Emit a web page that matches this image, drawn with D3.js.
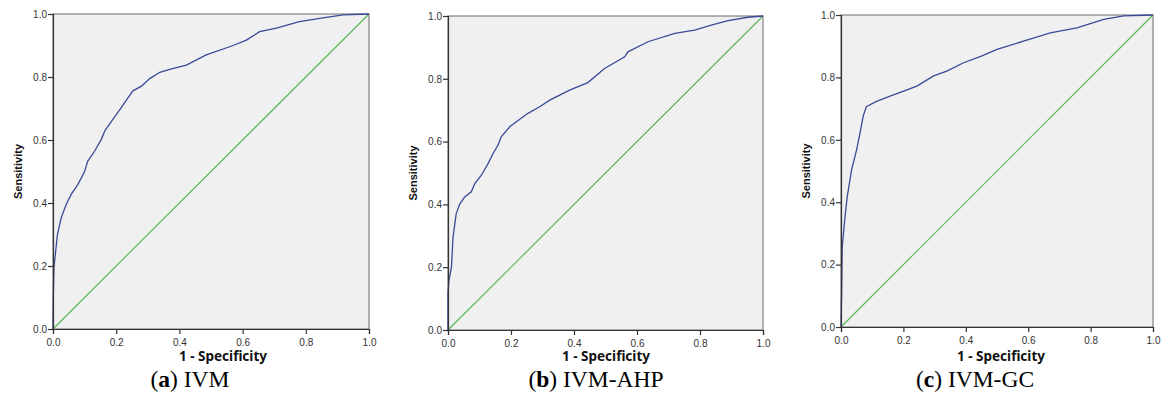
<!DOCTYPE html>
<html>
<head>
<meta charset="utf-8">
<script src="https://cdn.jsdelivr.net/npm/d3@7"></script>
<style>
  body { margin: 0; background: #fff; }
  svg { display: block; }
</style>
</head>
<body>
<div id="chart"></div>
<script>
// ROC curves (1 - specificity, sensitivity)
const fprA = [0, 0.001, 0.003, 0.014, 0.026, 0.042, 0.058, 0.079, 0.10, 0.11, 0.132, 0.153, 0.164, 0.19, 0.216, 0.237, 0.253, 0.28, 0.306, 0.338, 0.375, 0.422, 0.485, 0.57, 0.612, 0.654, 0.707, 0.78, 0.844, 0.918, 1]
const tprA = [0, 0.099, 0.195, 0.30, 0.353, 0.396, 0.428, 0.459, 0.50, 0.533, 0.565, 0.602, 0.629, 0.666, 0.703, 0.734, 0.756, 0.771, 0.795, 0.815, 0.826, 0.838, 0.870, 0.90, 0.917, 0.944, 0.955, 0.976, 0.986, 0.997, 1]

const fprB = [0, 0, 0.003, 0.011, 0.016, 0.026, 0.037, 0.053, 0.074, 0.085, 0.106, 0.127, 0.143, 0.159, 0.169, 0.196, 0.217, 0.254, 0.291, 0.323, 0.386, 0.444, 0.497, 0.561, 0.571, 0.635, 0.72, 0.783, 0.836, 0.889, 0.952, 1]
const tprB = [0, 0.115, 0.158, 0.20, 0.296, 0.37, 0.40, 0.424, 0.44, 0.466, 0.493, 0.53, 0.562, 0.589, 0.615, 0.647, 0.663, 0.69, 0.711, 0.732, 0.764, 0.788, 0.833, 0.87, 0.886, 0.918, 0.945, 0.955, 0.971, 0.985, 0.996, 1]

const fprC = [0, 0.002, 0.004, 0.013, 0.02, 0.034, 0.05, 0.061, 0.071, 0.081, 0.114, 0.157, 0.19, 0.243, 0.297, 0.339, 0.393, 0.45, 0.5, 0.585, 0.671, 0.756, 0.842, 0.906, 1]
const tprC = [0, 0.107, 0.257, 0.354, 0.418, 0.504, 0.568, 0.622, 0.675, 0.706, 0.723, 0.74, 0.752, 0.772, 0.805, 0.82, 0.847, 0.868, 0.89, 0.916, 0.943, 0.959, 0.986, 0.997, 1]

const ticks = [0, 0.2, 0.4, 0.6, 0.8, 1.0]
const captions = [["a", " IVM"], ["b", " IVM-AHP"], ["c", " IVM-GC"]]
const xTitles = ["1 -  Specificity", "1 - Specificity", "1 - Specificity"]
const yTitle = "Sensitivity"

const W = 1161, H = 417
const svg = d3.select("#chart").append("svg")
  .attr("width", W)
  .attr("height", H)

// panel frames in pixels
const panels = [
  { x0: 53, x1: 369, y0: 14, y1: 329, fpr: fprA, tpr: tprA, tx: 223, yx: 18, cap: 190 },
  { x0: 448, x1: 763, y0: 16, y1: 330, fpr: fprB, tpr: tprB, tx: 606, yx: 413, cap: 596 },
  { x0: 841, x1: 1153, y0: 15, y1: 327, fpr: fprC, tpr: tprC, tx: 1001, yx: 806, cap: 975 }
]

panels.forEach((p, k) => {
  const x = d3.scaleLinear().domain([0, 1]).range([p.x0, p.x1])
  const y = d3.scaleLinear().domain([0, 1]).range([p.y1, p.y0])
  const g = svg.append("g")

  g.append("rect")
    .attr("x", p.x0).attr("y", p.y0)
    .attr("width", p.x1 - p.x0).attr("height", p.y1 - p.y0)
    .attr("fill", "#f0f0f0")
    .attr("stroke", "#6a6a6a")
    .attr("stroke-width", 1)

  // reference diagonal
  g.append("path")
    .datum([0, 1])
    .attr("d", d3.line().x(d => x(d)).y(d => y(d)))
    .attr("fill", "none")
    .attr("stroke", "#52b552")
    .attr("stroke-width", 1.1)

  const pts = p.fpr.map((v, i) => [v, p.tpr[i]])
  g.append("path")
    .datum(pts)
    .attr("d", d3.line().x(d => x(d[0])).y(d => y(d[1])))
    .attr("fill", "none")
    .attr("stroke", "#3a4a98")
    .attr("stroke-width", 1.3)

  const xAxis = g.append("g")
    .attr("transform", `translate(0,${p.y1})`)
    .call(d3.axisBottom(x).tickValues(ticks).tickFormat(d3.format(".1f")).tickSizeOuter(0).tickSize(5))
  const yAxis = g.append("g")
    .attr("transform", `translate(${p.x0},0)`)
    .call(d3.axisLeft(y).tickValues(ticks).tickFormat(d3.format(".1f")).tickSizeOuter(0).tickSize(5))
  ;[xAxis, yAxis].forEach(a => {
    a.select(".domain").attr("stroke", "#333").attr("stroke-width", 1.2)
    a.selectAll(".tick line").attr("stroke", "#333").attr("stroke-width", 1.2)
    a.selectAll("text")
      .attr("fill", "#333")
      .style("font-family", "'Liberation Sans', Arial, sans-serif")
      .style("font-size", "10px")
  })
  xAxis.selectAll("text").attr("dy", "0.9em")
  yAxis.selectAll("text").attr("x", -6)

  // axis titles
  g.append("text")
    .text(xTitles[k])
    .attr("x", p.tx).attr("y", 361)
    .attr("text-anchor", "middle")
    .attr("font-family", "'Noto Sans', 'Open Sans', sans-serif")
    .attr("font-weight", "bold")
    .attr("font-size", "13.5px")
    .attr("fill", "#111")
  g.append("text")
    .text(yTitle)
    .attr("transform", `translate(${p.yx},${(p.y0 + p.y1) / 2}) rotate(-90)`)
    .attr("text-anchor", "middle")
    .attr("dominant-baseline", "central")
    .attr("font-family", "'Liberation Sans', Arial, sans-serif")
    .attr("font-weight", "bold")
    .attr("font-size", "11px")
    .attr("fill", "#111")

  // caption
  const cap = g.append("text")
    .attr("x", p.cap).attr("y", 387)
    .attr("text-anchor", "middle")
    .attr("font-family", "'Liberation Serif', 'Times New Roman', serif")
    .attr("font-size", "23.5px")
    .attr("fill", "#000")
  cap.append("tspan").text("(")
  cap.append("tspan").text(captions[k][0]).attr("font-weight", "bold")
  cap.append("tspan").text(")" + captions[k][1])
})
</script>
</body>
</html>
